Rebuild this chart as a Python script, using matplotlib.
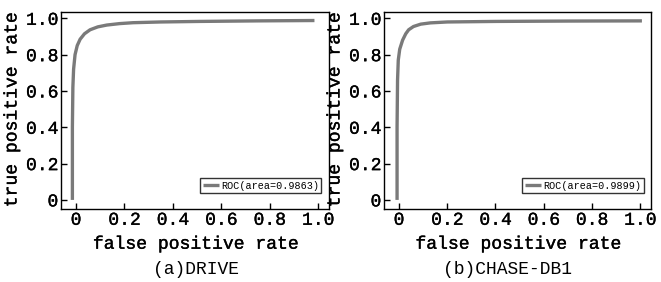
import matplotlib
matplotlib.use("Agg")
import matplotlib.pyplot as plt
import matplotlib.patheffects as pe

# Data
fpr_drive = [-0.015, -0.015, -0.013, -0.010, -0.004, 0.005, 0.017, 0.035, 0.058, 0.09, 0.127, 0.18, 0.236, 0.35, 0.51, 0.75, 0.985]
tpr_drive = [0.0, 0.40, 0.62, 0.72, 0.80, 0.85, 0.885, 0.915, 0.937, 0.953, 0.963, 0.971, 0.976, 0.980, 0.983, 0.986, 0.988]

fpr_chase = [-0.008, -0.008, -0.006, -0.003, 0.003, 0.015, 0.028, 0.04, 0.06, 0.09, 0.13, 0.2, 0.4, 0.7, 1.007]
tpr_chase = [0.0, 0.40, 0.66, 0.77, 0.83, 0.88, 0.915, 0.937, 0.955, 0.968, 0.975, 0.980, 0.983, 0.985, 0.986]

labels = ["ROC(area=0.9863)", "ROC(area=0.9899)"]
captions = ["(a)DRIVE", "(b)CHASE-DB1"]
xticks = [0, 0.2, 0.4, 0.6, 0.8, 1.0]
xticklabels = ["0", "0.2", "0.4", "0.6", "0.8", "1.0"]
yticks = [0, 0.2, 0.4, 0.6, 0.8, 1.0]
yticklabels = ["0", "0.2", "0.4", "0.6", "0.8", "1.0"]

FONT = "Liberation Mono"
semi = [pe.withStroke(linewidth=0.25, foreground="black")]

fig = plt.figure(figsize=(6.61, 2.82), dpi=100)
axes_pos = [[0.0923, 0.2589, 0.4054, 0.6986], [0.581, 0.2589, 0.404, 0.6986]]
cap_x = [0.296, 0.768]
data = [(fpr_drive, tpr_drive), (fpr_chase, tpr_chase)]

for i in range(2):
    ax = fig.add_axes(axes_pos[i])
    fx, ty = data[i]
    ax.plot(fx, ty, color="#7a7a7a", lw=2.4, label=labels[i], solid_capstyle="butt")
    ax.set_xlim(-0.062, 1.045)
    ax.set_ylim(-0.05, 1.035)
    ax.set_xticks(xticks)
    ax.set_xticklabels(xticklabels, fontfamily=FONT, fontsize=13)
    ax.set_yticks(yticks)
    ax.set_yticklabels(yticklabels, fontfamily=FONT, fontsize=13)
    for t in ax.get_xticklabels() + ax.get_yticklabels():
        t.set_path_effects(semi)
    ax.tick_params(direction="in", length=4, width=1, pad=2, top=False, right=False)
    for s in ax.spines.values():
        s.set_linewidth(1.0)
        s.set_color("black")
    xl = ax.set_xlabel("false positive rate", fontfamily=FONT, fontsize=13, labelpad=5)
    yl = ax.set_ylabel("true positive rate", fontfamily=FONT, fontsize=13, labelpad=4)
    xl.set_path_effects(semi)
    yl.set_path_effects(semi)
    leg = ax.legend(loc="lower right", bbox_to_anchor=(0.972, 0.08),
                    prop={"family": FONT, "size": 7.3},
                    frameon=True, fancybox=False, edgecolor="black",
                    handlelength=1.6, handletextpad=0.2, borderpad=0.25,
                    borderaxespad=0.0)
    leg.get_frame().set_linewidth(1.0)
    cap = fig.text(cap_x[i], 0.045, captions[i], fontfamily=FONT, fontsize=13,
                   ha="center", va="center")

fig.savefig("out.png", dpi=100)
